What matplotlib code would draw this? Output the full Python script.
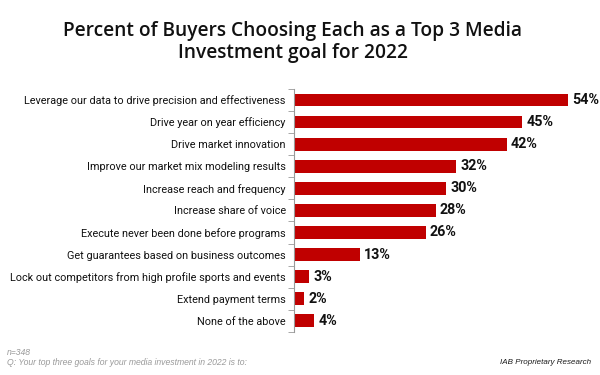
import numpy as np
import matplotlib.pyplot as plt

# 数据
goals = ['Leverage our data to drive precision and effectiveness',
         'Drive year on year efficiency',
         'Drive market innovation',
         'Improve our market mix modeling results',
         'Increase reach and frequency',
         'Increase share of voice',
         'Execute never been done before programs',
         'Get guarantees based on business outcomes',
         'Lock out competitors from high profile sports and events',
         'Extend payment terms',
         'None of the above']
pct = [54, 45, 42, 32, 30, 28, 26, 13, 3, 2, 4]

fig = plt.figure(figsize=(6, 3.75), dpi=100)
ax = fig.add_axes([0.49, 0.115, 0.49, 0.648])

y = np.arange(len(goals))
ax.barh(y, pct, height=0.58, color='#C00000')
for yi, v in zip(y, pct):
    ax.text(v + 0.8, yi, '%d%%' % v, va='center', ha='left',
            fontsize=10.3, fontweight='bold', family='Roboto', color='#111111')

ax.set_ylim(len(goals) - 0.5, -0.5)
ax.set_xlim(0, 58)
ax.set_yticks(y)
ax.set_yticklabels(goals, fontsize=7.8, family='Roboto', color='#111111')
ax.set_yticks(np.arange(len(goals) + 1) - 0.5, minor=True)
ax.tick_params(axis='y', which='major', length=0, pad=6)
ax.tick_params(axis='y', which='minor', length=4, color='#999999')
ax.set_xticks([])
for s in ['top', 'right', 'bottom']:
    ax.spines[s].set_visible(False)
ax.spines['left'].set_color('#999999')

fig.text(0.488, 0.888, 'Percent of Buyers Choosing Each as a Top 3 Media\nInvestment goal for 2022',
         ha='center', va='center', fontsize=13.8, family='Open Sans',
         fontweight='semibold', linespacing=1.1, color='#111111')

fig.text(0.012, 0.061, 'n=348', fontsize=6.2, style='italic', family='Liberation Sans',
         color='#9a9a9a', va='center')
fig.text(0.012, 0.033, 'Q: Your top three goals for your media investment in 2022 is to:',
         fontsize=6.2, style='italic', family='Liberation Sans', color='#9a9a9a', va='center')
fig.text(0.985, 0.033, 'IAB Proprietary Research', fontsize=5.8, style='italic',
         family='Liberation Sans', color='#1a1a1a', va='center', ha='right')

plt.savefig('out.png', dpi=100)
